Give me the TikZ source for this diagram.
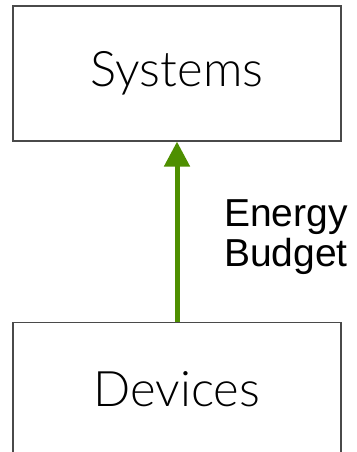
\documentclass[tikz,border=0pt]{standalone}
\usepackage{fontspec}
\setmainfont{Liberation Sans}
\newfontfamily\boxfont{Lato Light}
\usetikzlibrary{arrows.meta, positioning}
\definecolor{grn}{HTML}{4E8F00}
\definecolor{edg}{HTML}{4A4A4A}
\tikzset{
  lvl/.style  = {rectangle, draw=edg, line width=1.2pt, fill=white,
                 minimum width=328pt, minimum height=135pt, inner sep=0pt,
                 font=\boxfont\fontsize{49}{60}\selectfont},
  uparr/.style = {-{Triangle[length=25pt, width=25pt]}, line width=5pt, color=grn},
  lbl/.style  = {font=\fontsize{39}{40}\selectfont, align=center, inner sep=0pt},
}

\begin{document}
\begin{tikzpicture}[x=1pt, y=1pt]
  \useasboundingbox (0,0) rectangle (356,452);

  % ── levels
  \node[lvl] (sys) at (177,378.5) {Systems};
  \node[lvl, below=180pt of sys] (dev) {Devices};

  % ── budget flows up
  \draw[uparr] (dev.north) -- (sys.south);
  \node[lbl] (bud) at (286,215) {Energy\\Budget};

\end{tikzpicture}
\end{document}
